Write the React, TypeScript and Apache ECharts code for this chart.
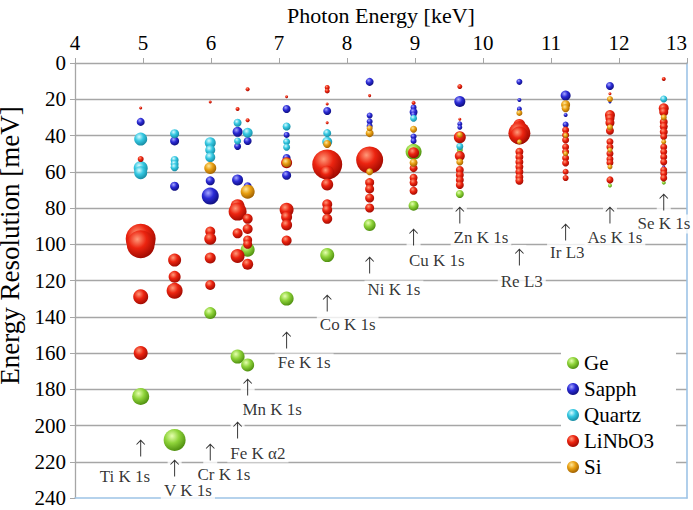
import React, { useEffect, useRef } from "react";
import * as echarts from "echarts";

// Photon energies of the measured edges [keV]
const TI = 4.966, V = 5.465, CR = 5.989, FEA2 = 6.391, MN = 6.539, FE = 7.112, CO = 7.709;
const NI = 8.333, CU = 8.979, ZN = 9.659, RE = 10.535, IR = 11.215, AS = 11.867, SE = 12.658;

// [energy keV, resolution meV, bubble weight]
const geData = [
  [TI, 184, 17], [V, 208, 22], [CR, 138, 12], [FEA2, 162, 14], [MN, 166.6, 13], [MN, 103, 14],
  [FE, 130, 14], [CO, 106, 14], [NI, 89.4, 12], [CU, 78.7, 10], [CU, 49, 16], [ZN, 72.3, 8],
  [ZN, 48, 6], [AS, 67.6, 4], [SE, 66, 4],
];
const sapphData = [
  [TI, 32.5, 8], [V, 43, 9], [V, 68, 9], [CR, 65, 9], [CR, 73.4, 17], [FEA2, 38, 10], [FEA2, 46, 7],
  [FEA2, 64.5, 11], [MN, 43, 8], [MN, 68, 8], [FE, 25.4, 8], [FE, 39.7, 6], [FE, 52.4, 8], [FE, 62, 9],
  [CO, 26.5, 8], [NI, 10.4, 8], [NI, 29, 6], [NI, 32.3, 6], [NI, 34.8, 6], [CU, 24.5, 6], [CU, 27, 8],
  [CU, 28.5, 6], [CU, 40.6, 6], [CU, 43, 6], [ZN, 21.2, 11], [ZN, 33.6, 5], [ZN, 35.5, 5],
  [RE, 10.4, 6], [RE, 20.4, 4], [RE, 25.4, 5], [IR, 18, 10], [IR, 28.7, 4], [IR, 34, 6],
  [AS, 12.7, 8], [AS, 21.5, 3], [SE, 57.3, 3],
];
const quartzData = [
  [TI, 42, 13], [TI, 58, 14], [TI, 60.5, 13], [V, 39, 9], [V, 53.5, 8], [V, 55.7, 8], [V, 57.5, 8],
  [CR, 44, 11], [CR, 48, 10], [CR, 52, 10], [FEA2, 33, 8], [FEA2, 43, 7], [MN, 38.5, 10],
  [FE, 35, 8], [FE, 43.5, 7], [FE, 46.5, 7], [CO, 38.7, 8], [CO, 43.5, 10], [CU, 30.5, 7],
  [ZN, 46, 7], [SE, 19.9, 7],
];
const linbo3Data = [
  [TI, 24.8, 3], [TI, 53, 6], [TI, 97, 30], [TI, 100, 28], [TI, 129, 15], [TI, 160, 14],
  [V, 108.7, 13], [V, 118, 12], [V, 125.7, 16],
  [CR, 21.5, 3], [CR, 93, 10], [CR, 97, 12], [CR, 107.6, 11], [CR, 122.5, 10],
  [FEA2, 25.4, 4], [FEA2, 79, 14], [FEA2, 82, 18], [FEA2, 94, 10], [FEA2, 106.5, 14],
  [MN, 14.5, 4], [MN, 31.6, 4], [MN, 86, 10], [MN, 91.6, 10], [MN, 97.6, 9], [MN, 100, 9], [MN, 111, 11],
  [FE, 18.6, 3], [FE, 55, 11], [FE, 81, 14], [FE, 85, 11], [FE, 89.4, 11], [FE, 98, 10],
  [CO, 13.5, 5], [CO, 15.4, 5], [CO, 22.6, 3], [CO, 33, 3], [CO, 56, 30], [CO, 60.5, 14], [CO, 67, 12],
  [CO, 78, 10], [CO, 81, 10], [CO, 86, 10],
  [NI, 18, 3], [NI, 53.5, 27], [NI, 66, 9], [NI, 69.5, 9], [NI, 74.5, 9], [NI, 80, 9],
  [CU, 22, 4], [CU, 49.5, 11], [CU, 58, 8], [CU, 63.3, 8], [CU, 66, 8], [CU, 70.5, 8],
  [ZN, 13, 5], [ZN, 31, 3], [ZN, 41, 12], [ZN, 51.3, 10], [ZN, 59, 8], [ZN, 61.8, 8], [ZN, 64.5, 8], [ZN, 67.3, 8],
  [RE, 34.2, 12], [RE, 35.9, 14], [RE, 38.7, 22], [RE, 40, 18], [RE, 49, 8], [RE, 51.8, 8], [RE, 54.6, 8],
  [RE, 57.3, 8], [RE, 60, 8], [RE, 62.9, 8], [RE, 65, 8],
  [IR, 37, 7], [IR, 39.7, 7], [IR, 42.5, 7], [IR, 46.3, 7], [IR, 49, 7], [IR, 52.4, 7], [IR, 55.2, 7],
  [IR, 60, 6], [IR, 63.5, 6],
  [AS, 17, 3], [AS, 28.7, 10], [AS, 30.5, 9], [AS, 33, 9], [AS, 37.4, 8], [AS, 43.5, 7], [AS, 46.3, 7],
  [AS, 50, 7], [AS, 53, 7], [AS, 55, 7], [AS, 64.5, 7],
  [SE, 8.8, 4], [SE, 25, 10], [SE, 27, 9], [SE, 32.5, 8], [SE, 35, 8], [SE, 38, 8], [SE, 40.6, 7],
  [SE, 46.3, 7], [SE, 49, 7], [SE, 51.8, 7], [SE, 54.6, 7], [SE, 59, 7], [SE, 61, 7], [SE, 63.5, 7],
];
const siData = [
  [CR, 58, 12], [MN, 71, 14], [FE, 55, 9], [CO, 44.7, 8], [NI, 38.7, 8], [NI, 36, 6], [NI, 60, 7],
  [CU, 36.6, 7], [CU, 55, 8], [ZN, 39.7, 6], [ZN, 54.6, 7], [RE, 27.6, 6], [RE, 43.5, 5],
  [IR, 23, 9], [IR, 25, 8], [IR, 40, 5], [IR, 50, 5], [AS, 19.9, 6], [AS, 35.5, 6], [AS, 48, 5],
  [AS, 57.3, 5], [SE, 30, 6], [SE, 43.5, 5],
];

// Edge annotations
const noteNames = ["Ti K 1s", "V K 1s", "Cr K 1s", "Fe K α2", "Mn K 1s", "Fe K 1s", "Co K 1s",
  "Ni K 1s", "Cu K 1s", "Zn K 1s", "Re L3", "Ir L3", "As K 1s", "Se K 1s"];
const arrowX = [TI, V, CR, FEA2, MN, FE, CO, NI, CU, ZN, RE, IR, AS, SE];
const arrowY = [212.4, 223.4, 214.6, 202.5, 178.8, 152.8, 132.4, 111.4, 96, 83.9, 107, 93.2, 83.9, 76.7];
const noteX = [4.735, 5.66, 6.19, 6.69, 6.9, 7.37, 8.01, 8.69, 9.32, 9.97, 10.57, 11.24, 11.94, 12.66];
const noteY = [228.4, 236.1, 227.3, 215.2, 191.4, 165.5, 144.5, 125.2, 109.2, 96, 120.8, 104.3, 96.5, 88.8];

const seriesNames = ["Ge", "Sapph", "Quartz", "LiNbO3", "Si"];
const xTicks = { min: 4, max: 13, interval: 1 };
const yTicks = { min: 0, max: 240, interval: 20 };

const FONT = "Liberation Serif, Times New Roman, serif";
const ARROW =
  "path://M5,0 L9.6,5.6 L8.9,6.2 L5.5,2.4 L5.5,20 L4.5,20 L4.5,2.4 L1.1,6.2 L0.4,5.6 Z";

function ball(light: string, mid: string, dark: string) {
  return new echarts.graphic.RadialGradient(0.38, 0.32, 0.72, [
    { offset: 0, color: light },
    { offset: 0.45, color: mid },
    { offset: 1, color: dark },
  ]);
}

export default function App() {
  const ref = useRef<HTMLDivElement>(null);
  useEffect(() => {
    if (!ref.current) return;
    const chart = echarts.init(ref.current, undefined, { renderer: "svg" });
    const colors = [
      ball("#e6ffb0", "#8fd43a", "#4a8a0c"),
      ball("#a8a8ff", "#2b2bd6", "#0c0c78"),
      ball("#d8fbff", "#35c8e2", "#16879e"),
      ball("#ff9a7a", "#ec2410", "#9a0800"),
      ball("#ffe79a", "#e9a012", "#9a5c00"),
    ];
    const datas = [geData, sapphData, quartzData, linbo3Data, siData];
    const bubbleSeries = seriesNames.map((n, i) => ({
      name: n,
      type: "scatter",
      data: datas[i],
      symbolSize: (v: number[]) => v[2],
      itemStyle: { color: colors[i], opacity: 1 },
      z: 2,
    }));
    // draw the notes from right to left so the left ones sit on top
    const noteData = noteX
      .map((x, i) => ({ value: [x, noteY[i]], name: noteNames[i] }))
      .reverse();
    const arrowData = arrowX.map((x, i) => [x, arrowY[i]]);
    const option: any = {
      animation: false,
      textStyle: { fontFamily: FONT },
      grid: { left: 75, right: 6, top: 63, bottom: 12, containLabel: false, outerBoundsMode: "none" },
      legend: {
        data: seriesNames,
        orient: "vertical",
        left: 561,
        top: 349,
        icon: "circle",
        itemWidth: 12,
        itemHeight: 12,
        itemGap: 4,
        padding: [3, 22, 6, 6],
        backgroundColor: "#fff",
        textStyle: { fontSize: 21, color: "#000", fontFamily: FONT, lineHeight: 22 },
      },
      xAxis: [
        {
          type: "value",
          position: "top",
          ...xTicks,
          name: "Photon Energy [keV]",
          nameLocation: "middle",
          nameGap: 37,
          nameTextStyle: { fontSize: 22, color: "#000", fontFamily: FONT },
          axisLine: { show: true, onZero: false, lineStyle: { color: "#a6a6a6", width: 1.3 } },
          axisTick: { show: true, length: 5, lineStyle: { color: "#a6a6a6" } },
          axisLabel: { fontSize: 21, color: "#000", margin: 10, fontFamily: FONT, alignMaxLabel: "right" },
          splitLine: { show: false },
        },
        {
          type: "value",
          position: "bottom",
          ...xTicks,
          axisLine: { show: true, onZero: false, lineStyle: { color: "#9dc3e6", width: 1.6 } },
          axisTick: { show: false },
          axisLabel: { show: false },
          splitLine: { show: false },
        },
      ],
      yAxis: [
        {
          type: "value",
          inverse: true,
          ...yTicks,
          name: "Energy Resolution [meV]",
          nameLocation: "middle",
          nameGap: 35,
          nameTextStyle: { fontSize: 27, color: "#000", fontFamily: FONT, padding: [0, 0, 0, 70] },
          axisLine: { show: true, onZero: false, lineStyle: { color: "#a6a6a6", width: 1.3 } },
          axisTick: { show: true, length: 5, lineStyle: { color: "#a6a6a6" } },
          axisLabel: { fontSize: 21, color: "#000", margin: 9, fontFamily: FONT },
          splitLine: {
            show: true,
            showMinLine: false,
            showMaxLine: false,
            lineStyle: { color: "#a6a6a6", width: 1.3 },
          },
        },
        {
          type: "value",
          position: "right",
          inverse: true,
          ...yTicks,
          axisLine: { show: true, onZero: false, lineStyle: { color: "#9dc3e6", width: 1.6 } },
          axisTick: { show: false },
          axisLabel: { show: false },
          splitLine: { show: false },
        },
      ],
      series: [
        ...bubbleSeries,
        {
          name: "arrowBg",
          type: "scatter",
          data: arrowData,
          symbol: "rect",
          symbolSize: [14, 24],
          itemStyle: { color: "#fff" },
          silent: true,
          z: 3,
        },
        {
          name: "notes",
          type: "scatter",
          data: noteData,
          symbolSize: 1,
          itemStyle: { color: "rgba(255,255,255,0)" },
          z: 3,
          label: {
            show: true,
            position: "inside",
            formatter: "{b}",
            fontSize: 17,
            color: "#000",
            fontFamily: FONT,
            backgroundColor: "#fff",
            textBorderWidth: 0,
            padding: [1, 3, 1, 3],
          },
        },
        {
          name: "arrows",
          type: "scatter",
          data: arrowData,
          symbol: ARROW,
          symbolSize: [9, 17],
          itemStyle: { color: "#000" },
          z: 4,
        },
      ],
    };
    chart.setOption(option);
    return () => chart.dispose();
  }, []);
  return (
    <div
      ref={ref}
      style={{ position: "fixed", left: 0, top: 0, width: 693, height: 510, background: "#fff" }}
    />
  );
}
